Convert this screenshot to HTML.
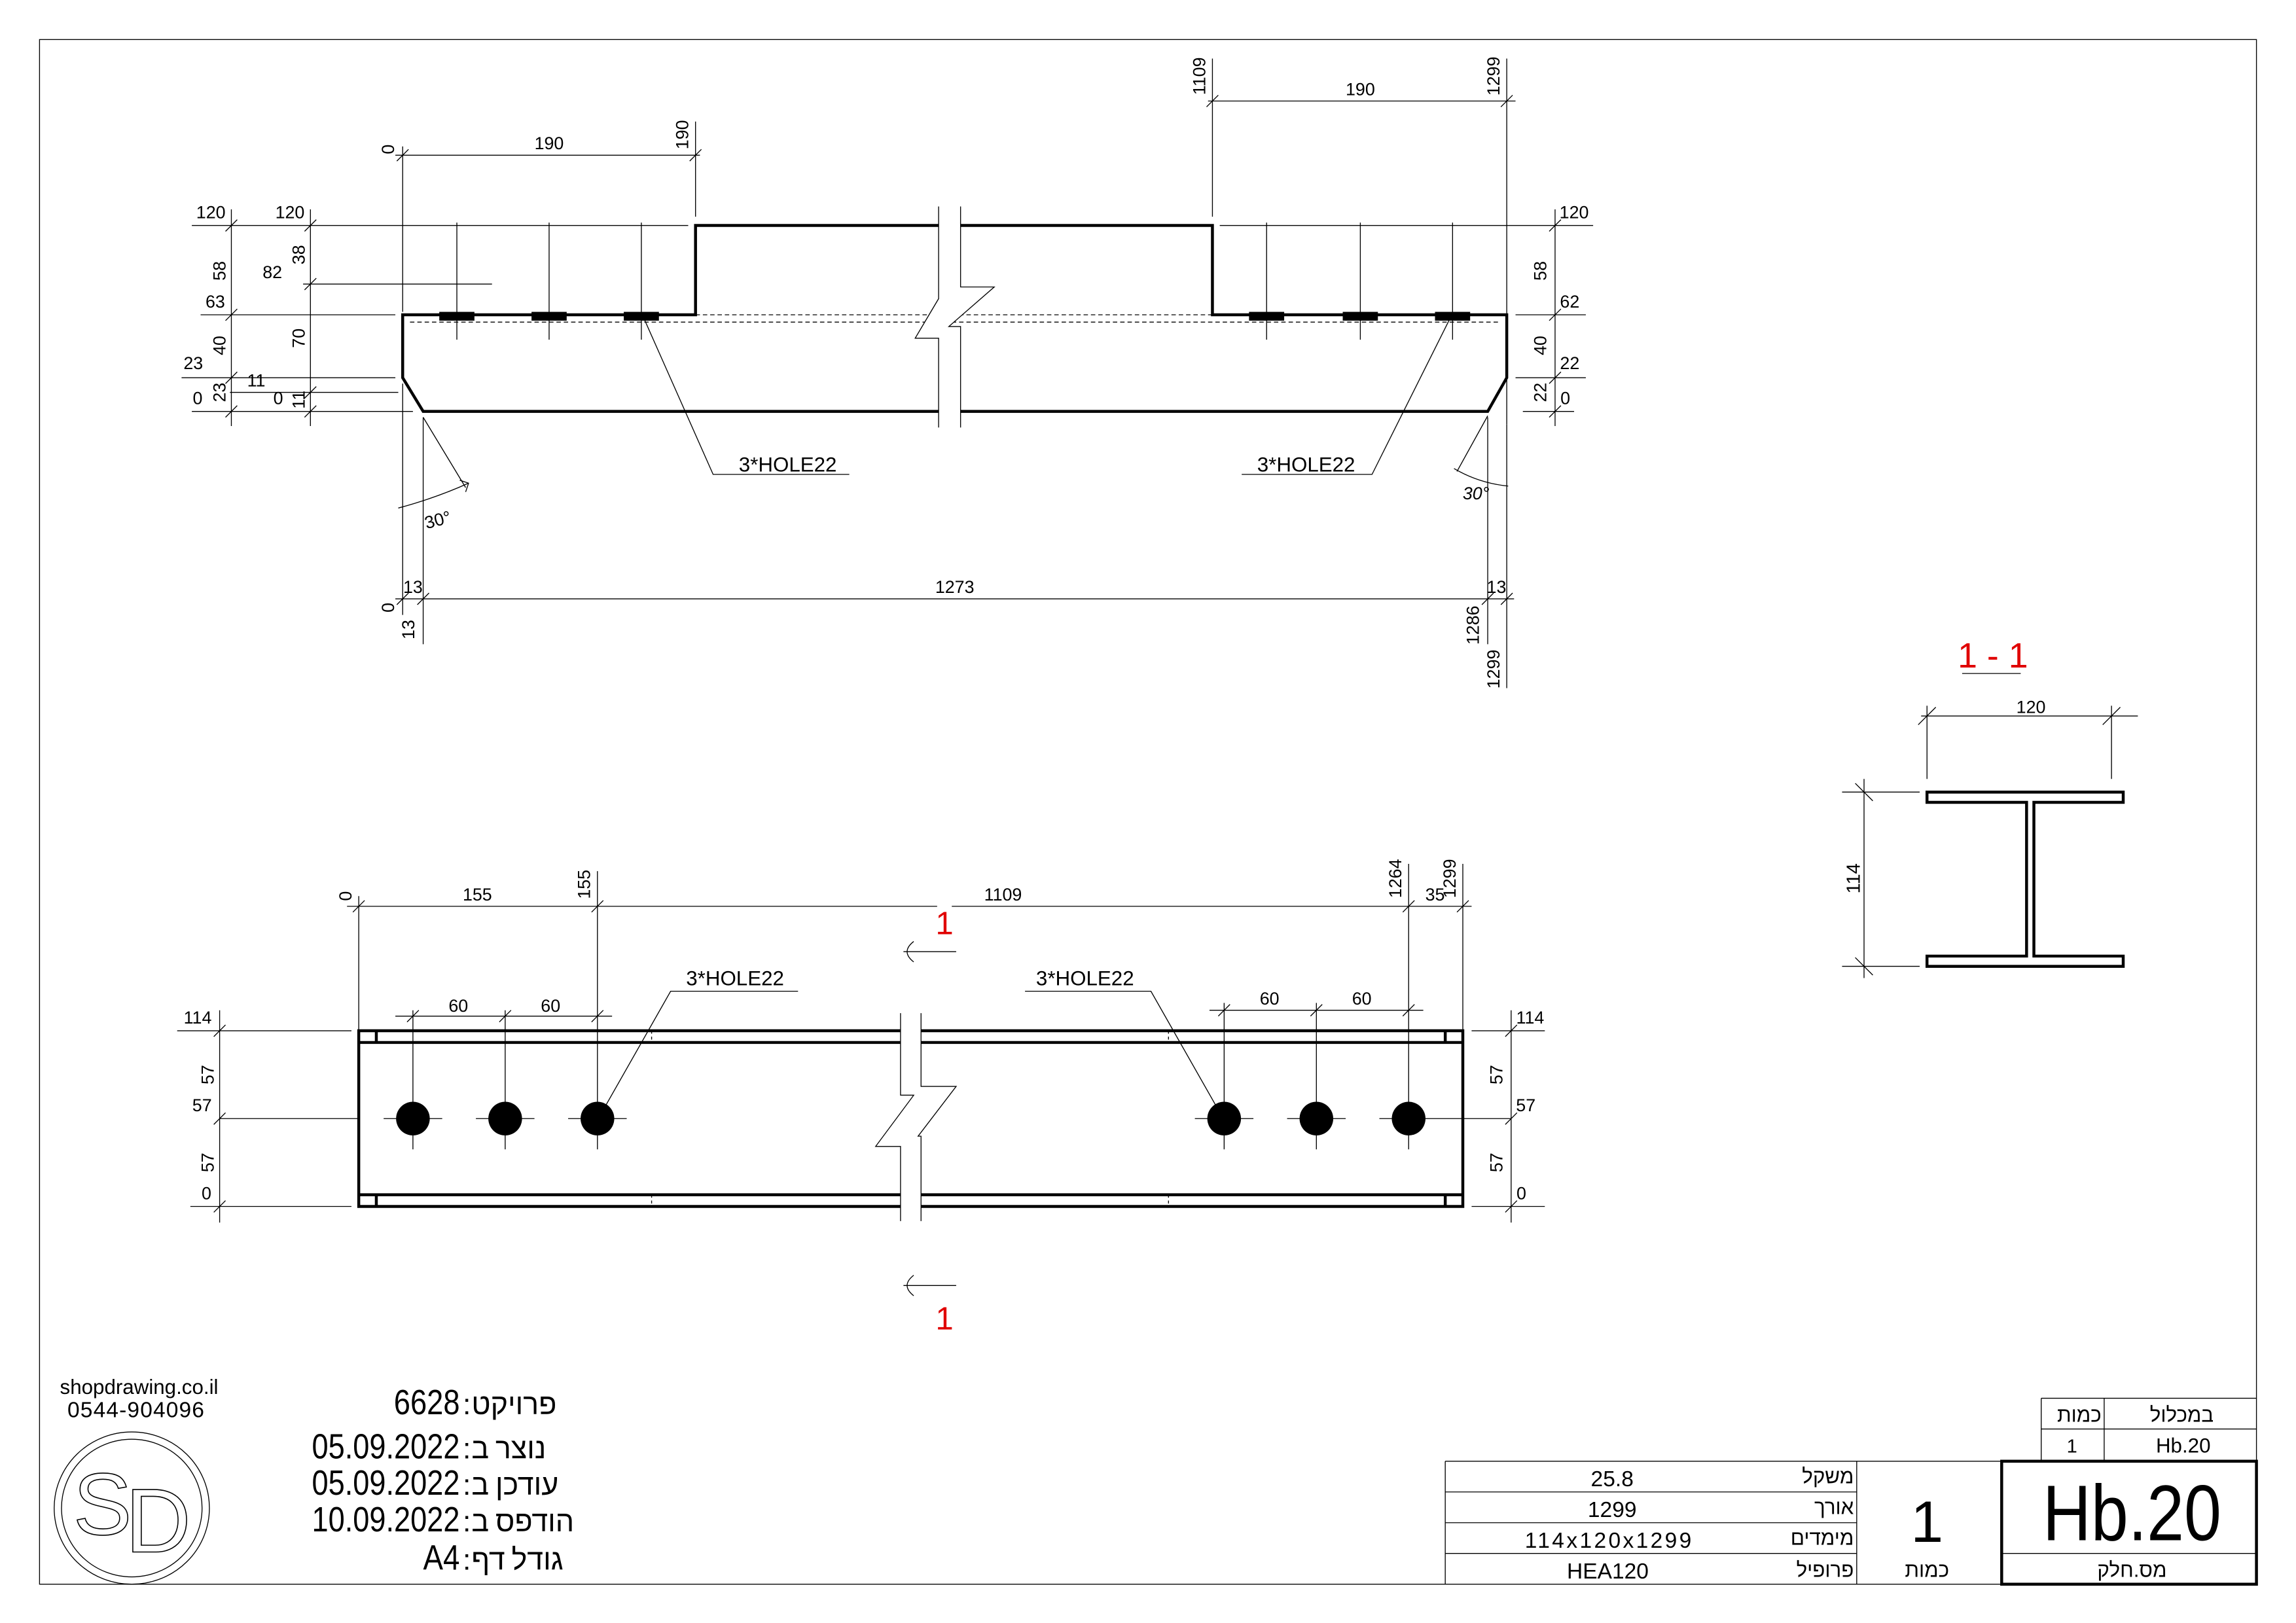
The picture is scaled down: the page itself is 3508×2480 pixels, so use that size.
<!DOCTYPE html>
<html><head><meta charset="utf-8"><style>
html,body{margin:0;padding:0;background:#fff}
svg{display:block}
text{font-family:"Liberation Sans",sans-serif;fill:#000}
.d{font-size:12px}
.t{stroke:#000;stroke-width:.6;fill:none}
.k{stroke:#000;stroke-width:2;fill:none}
.h{font-family:"Liberation Sans","Noto Sans CJK JP",sans-serif}
</style></head><body>
<svg width="3508" height="2480" viewBox="0 0 1568 1108.5" preserveAspectRatio="none" xmlns="http://www.w3.org/2000/svg">
<rect x="0" y="0" width="1568" height="1109" fill="#fff"/>
<rect x="27" y="27" width="1514" height="1055" class="t" stroke-width="0.8"/>

<!-- ================= TOP VIEW ================= -->
<path class="k" d="M275,215 H475 V154 H828 V215 H1029 V258 L1016,281 H289 L275,258 Z"/>
<path class="t" stroke-dasharray="3,2" d="M475,215 H828 M280,220 H1025"/>
<g fill="#000"><rect x="300" y="213" width="24" height="6"/><rect x="363" y="213" width="24" height="6"/><rect x="426" y="213" width="24" height="6"/>
<rect x="853" y="213" width="24" height="6"/><rect x="917" y="213" width="24" height="6"/><rect x="980" y="213" width="24" height="6"/></g>
<path class="t" d="M312,152V232 M375,152V232 M438,152V232 M865,152V232 M929,152V232 M992,152V232"/>
<polygon fill="#fff" points="641,141 656,141 656,196 679,196 648,223 656,223 656,292 641,292 641,231 625,231 641,204"/>
<path class="t" stroke-width="0.8" d="M641,141V204 L625,231 H641 V292 M656,141 V196 H679 L648,223 H656 V292"/>
<path class="t" d="M270,106H478 M275,100V213 M475,83V148 M271,110l8,-8 M471,110l8,-8"/>
<text class="d" x="375" y="102" text-anchor="middle">190</text>
<text class="d" transform="translate(269,102) rotate(-90)" text-anchor="middle">0</text>
<text class="d" transform="translate(470,92) rotate(-90)" text-anchor="middle">190</text>
<path class="t" d="M825,69H1035 M828,40V148 M1029,40V290 M824,73l8,-8 M1025,73l8,-8"/>
<text class="d" x="929" y="65" text-anchor="middle">190</text>
<text class="d" transform="translate(823,52) rotate(-90)" text-anchor="middle">1109</text>
<text class="d" transform="translate(1024,52) rotate(-90)" text-anchor="middle">1299</text>
<path class="t" d="M158,143V291 M131,154H470 M137,215H270 M124,258H270 M131,281H282 M154,158l8,-8 M154,219l8,-8 M154,262l8,-8 M154,285l8,-8"/>
<text class="d" x="144" y="149" text-anchor="middle">120</text>
<text class="d" x="147" y="210" text-anchor="middle">63</text>
<text class="d" x="132" y="252" text-anchor="middle">23</text>
<text class="d" x="135" y="276" text-anchor="middle">0</text>
<text class="d" transform="translate(154,185) rotate(-90)" text-anchor="middle">58</text>
<text class="d" transform="translate(154,236) rotate(-90)" text-anchor="middle">40</text>
<text class="d" transform="translate(154,268) rotate(-90)" text-anchor="middle">23</text>
<path class="t" d="M212,143V291 M207,194H336 M157,268H272 M208,158l8,-8 M208,198l8,-8 M208,272l8,-8 M208,285l8,-8"/>
<text class="d" x="198" y="149" text-anchor="middle">120</text>
<text class="d" x="186" y="190" text-anchor="middle">82</text>
<text class="d" x="175" y="264" text-anchor="middle">11</text>
<text class="d" x="190" y="276" text-anchor="middle">0</text>
<text class="d" transform="translate(208,174) rotate(-90)" text-anchor="middle">38</text>
<text class="d" transform="translate(208,231) rotate(-90)" text-anchor="middle">70</text>
<text class="d" transform="translate(208,273) rotate(-90)" text-anchor="middle">11</text>
<path class="t" d="M1062,143V291 M833,154H1088 M1035,215H1083 M1035,258H1083 M1040,281H1075 M1058,158l8,-8 M1058,219l8,-8 M1058,262l8,-8 M1058,285l8,-8"/>
<text class="d" x="1075" y="149" text-anchor="middle">120</text>
<text class="d" x="1072" y="210" text-anchor="middle">62</text>
<text class="d" x="1072" y="252" text-anchor="middle">22</text>
<text class="d" x="1069" y="276" text-anchor="middle">0</text>
<text class="d" transform="translate(1056,185) rotate(-90)" text-anchor="middle">58</text>
<text class="d" transform="translate(1056,236) rotate(-90)" text-anchor="middle">40</text>
<text class="d" transform="translate(1056,268) rotate(-90)" text-anchor="middle">22</text>
<path class="t" d="M270,409H1034 M275,262V420 M289,285V440 M1016,285V440 M1029,290V470 M271,413l8,-8 M285,413l8,-8 M1012,413l8,-8 M1025,413l8,-8"/>
<text class="d" x="282" y="405" text-anchor="middle">13</text>
<text class="d" x="652" y="405" text-anchor="middle">1273</text>
<text class="d" x="1022" y="405" text-anchor="middle">13</text>
<text class="d" transform="translate(269,415) rotate(-90)" text-anchor="middle">0</text>
<text class="d" transform="translate(283,430) rotate(-90)" text-anchor="middle">13</text>
<text class="d" transform="translate(1010,427) rotate(-90)" text-anchor="middle">1286</text>
<text class="d" transform="translate(1024,457) rotate(-90)" text-anchor="middle">1299</text>
<path class="t" d="M289,285L318,333 M272,347Q298,340 320,330 M314,328l6,2l-2,6 M1016,284L995,322 M993,320Q1010,330 1030,332"/>
<text class="d" transform="translate(300,359) rotate(-15)" text-anchor="middle">30°</text>
<text class="d" x="1008" y="341" text-anchor="middle" font-style="italic">30°</text>
<path class="t" d="M440,218L487,324H580 M990,218L937,324H848"/>
<text x="538" y="322" text-anchor="middle" font-size="14">3*HOLE22</text>
<text x="892" y="322" text-anchor="middle" font-size="14">3*HOLE22</text>

<!-- ================= FRONT VIEW ================= -->
<path class="k" d="M245,704H999V824H245Z M245,712H999 M245,816H999 M257,704V712 M257,816V824 M987,704V712 M987,816V824"/>
<path class="t" stroke-dasharray="2,2" d="M445,704V712 M445,816V824 M798,704V712 M798,816V824"/>
<polygon fill="#fff" points="615,692 629,692 629,742 653,742 627,776 629,776 629,834 615,834 615,783 598,783 624,748 615,748"/>
<path class="t" stroke-width="0.8" d="M615,692V748 H624 L598,783 H615 V834 M629,692V742 H653 L627,776 H629 V834"/>
<g fill="#000"><circle cx="282" cy="764" r="11.5"/><circle cx="345" cy="764" r="11.5"/><circle cx="408" cy="764" r="11.5"/>
<circle cx="836" cy="764" r="11.5"/><circle cx="899" cy="764" r="11.5"/><circle cx="962" cy="764" r="11.5"/></g>
<path class="t" d="M150,764H245 M262,764H302 M325,764H365 M388,764H428 M816,764H856 M879,764H919 M942,764H1032
M282,690V785 M345,690V785 M408,595V785 M836,685V785 M899,685V785 M962,590V785"/>
<path class="t" d="M237,619H640 M650,619H1005 M245,612V704 M999,590V704 M241,623l8,-8 M404,623l8,-8 M958,623l8,-8 M995,623l8,-8"/>
<text class="d" x="326" y="615" text-anchor="middle">155</text>
<text class="d" x="685" y="615" text-anchor="middle">1109</text>
<text class="d" x="980" y="615" text-anchor="middle">35</text>
<text class="d" transform="translate(240,612) rotate(-90)" text-anchor="middle">0</text>
<text class="d" transform="translate(403,604) rotate(-90)" text-anchor="middle">155</text>
<text class="d" transform="translate(957,600) rotate(-90)" text-anchor="middle">1264</text>
<text class="d" transform="translate(994,600) rotate(-90)" text-anchor="middle">1299</text>
<path class="t" d="M270,694H418 M278,698l8,-8 M341,698l8,-8 M404,698l8,-8 M826,690H972 M832,694l8,-8 M895,694l8,-8 M958,694l8,-8"/>
<text class="d" x="313" y="691" text-anchor="middle">60</text>
<text class="d" x="376" y="691" text-anchor="middle">60</text>
<text class="d" x="867" y="686" text-anchor="middle">60</text>
<text class="d" x="930" y="686" text-anchor="middle">60</text>
<path class="t" d="M150,690V835 M121,704H240 M130,824H240 M146,708l8,-8 M146,768l8,-8 M146,828l8,-8"/>
<text class="d" x="135" y="699" text-anchor="middle">114</text>
<text class="d" x="138" y="759" text-anchor="middle">57</text>
<text class="d" x="141" y="819" text-anchor="middle">0</text>
<text class="d" transform="translate(146,734) rotate(-90)" text-anchor="middle">57</text>
<text class="d" transform="translate(146,794) rotate(-90)" text-anchor="middle">57</text>
<path class="t" d="M1032,690V835 M1005,704H1055 M1005,824H1055 M1028,708l8,-8 M1028,768l8,-8 M1028,828l8,-8"/>
<text class="d" x="1045" y="699" text-anchor="middle">114</text>
<text class="d" x="1042" y="759" text-anchor="middle">57</text>
<text class="d" x="1039" y="819" text-anchor="middle">0</text>
<text class="d" transform="translate(1026,734) rotate(-90)" text-anchor="middle">57</text>
<text class="d" transform="translate(1026,794) rotate(-90)" text-anchor="middle">57</text>
<path class="t" d="M412,758L458,677H545 M832,758L786,677H700"/>
<text x="502" y="673" text-anchor="middle" font-size="14">3*HOLE22</text>
<text x="741" y="673" text-anchor="middle" font-size="14">3*HOLE22</text>
<path class="t" d="M617,650H653 M624,643Q615,650 624,657 M617,878H653 M624,871Q615,878 624,885"/>
<text x="645" y="638" text-anchor="middle" font-size="22" style="fill:#e00000">1</text>
<text x="645" y="908" text-anchor="middle" font-size="22" style="fill:#e00000">1</text>

<!-- ================= SECTION 1-1 ================= -->
<text x="1361" y="456" text-anchor="middle" font-size="24" style="fill:#e00000">1 - 1</text>
<path class="t" d="M1340,460H1380"/>
<path class="t" d="M1312,489H1460 M1316,482V532 M1442,482V532 M1310,495l12,-12 M1436,495l12,-12"/>
<text class="d" x="1387" y="487" text-anchor="middle">120</text>
<path class="k" stroke-width="1.6" d="M1316,541H1450V548H1389V653H1450V660H1316V653H1384V548H1316Z"/>
<path class="t" d="M1273,532V668 M1258,541H1311 M1258,660H1311 M1267,535l12,12 M1267,654l12,12"/>
<text transform="translate(1270,600) rotate(-90)" text-anchor="middle" font-size="13">114</text>

<!-- ================= LEFT INFO ================= -->
<text x="95" y="952" text-anchor="middle" font-size="14">shopdrawing.co.il</text>
<text x="93" y="968" text-anchor="middle" font-size="15" letter-spacing="0.5">0544-904096</text>
<g class="t" stroke-width="0.7">
<ellipse cx="90" cy="1030" rx="53" ry="52"/><ellipse cx="90" cy="1030" rx="48" ry="47"/>
</g>
<text x="70" y="1048" font-family="Liberation Serif,serif" font-size="60" stroke="#000" stroke-width="0.7" style="fill:none" text-anchor="middle">S</text>
<text x="108" y="1060" font-family="Liberation Serif,serif" font-size="62" stroke="#000" stroke-width="0.7" style="fill:none" text-anchor="middle">D</text>

<g font-size="24">
<text x="314" y="966" text-anchor="end" textLength="45" lengthAdjust="spacingAndGlyphs">6628</text>
<text x="314" y="996" text-anchor="end" textLength="101" lengthAdjust="spacingAndGlyphs">05.09.2022</text>
<text x="314" y="1021" text-anchor="end" textLength="101" lengthAdjust="spacingAndGlyphs">05.09.2022</text>
<text x="314" y="1046" text-anchor="end" textLength="101" lengthAdjust="spacingAndGlyphs">10.09.2022</text>
<text x="314" y="1072" text-anchor="end" textLength="25" lengthAdjust="spacingAndGlyphs">A4</text>
</g>
<g font-size="20" class="h">
<text x="316" y="966">:</text><text x="316" y="996">:</text><text x="316" y="1021">:</text><text x="316" y="1046">:</text><text x="316" y="1072">:</text>
<text x="322" y="966" style="font-family:'Noto Sans CJK JP',sans-serif;font-weight:300">פרויקט</text>
<text x="322" y="996" style="font-family:'Noto Sans CJK JP',sans-serif;font-weight:300">נוצר ב</text>
<text x="322" y="1021" style="font-family:'Noto Sans CJK JP',sans-serif;font-weight:300">עודכן ב</text>
<text x="322" y="1046" style="font-family:'Noto Sans CJK JP',sans-serif;font-weight:300">הודפס ב</text>
<text x="322" y="1072" style="font-family:'Noto Sans CJK JP',sans-serif;font-weight:300">גודל דף</text>
</g>

<!-- ================= TITLE BLOCK ================= -->
<path class="t" stroke-width="0.8" d="M987,998H1367 M987,1019H1268 M987,1040H1268 M987,1061H1268 M987,998V1082 M1268,998V1082
M1394,955H1541 M1394,976H1541 M1394,955V998 M1437,955V998"/>
<rect x="1367" y="998" width="174" height="84" class="k" stroke-width="2"/>
<path class="t" stroke-width="0.8" d="M1367,1061H1541"/>
<g font-size="15">
<text x="1101" y="1015" text-anchor="middle">25.8</text>
<text x="1101" y="1036" text-anchor="middle">1299</text>
<text x="1099" y="1057" text-anchor="middle" letter-spacing="1.5">114x120x1299</text>
<text x="1098" y="1078" text-anchor="middle">HEA120</text>
</g>
<g font-size="14" style="font-family:'Noto Sans CJK JP',sans-serif;font-weight:300">
<text x="1266" y="1013" text-anchor="end">משקל</text>
<text x="1266" y="1034" text-anchor="end">אורך</text>
<text x="1266" y="1055" text-anchor="end">מימדים</text>
<text x="1266" y="1077" text-anchor="end">פרופיל</text>
<text x="1316" y="1077" text-anchor="middle">כמות</text>
<text x="1456" y="1077" text-anchor="middle">מס.חלק</text>
<text x="1420" y="971" text-anchor="middle">כמות</text>
<text x="1490" y="971" text-anchor="middle">במכלול</text>
</g>
<text x="1316" y="1053" text-anchor="middle" font-size="40">1</text>
<text x="1456" y="1052" text-anchor="middle" font-size="54" textLength="122" lengthAdjust="spacingAndGlyphs">Hb.20</text>
<text x="1415" y="992" text-anchor="middle" font-size="13">1</text>
<text x="1491" y="992" text-anchor="middle" font-size="14">Hb.20</text>
</svg>
</body></html>
